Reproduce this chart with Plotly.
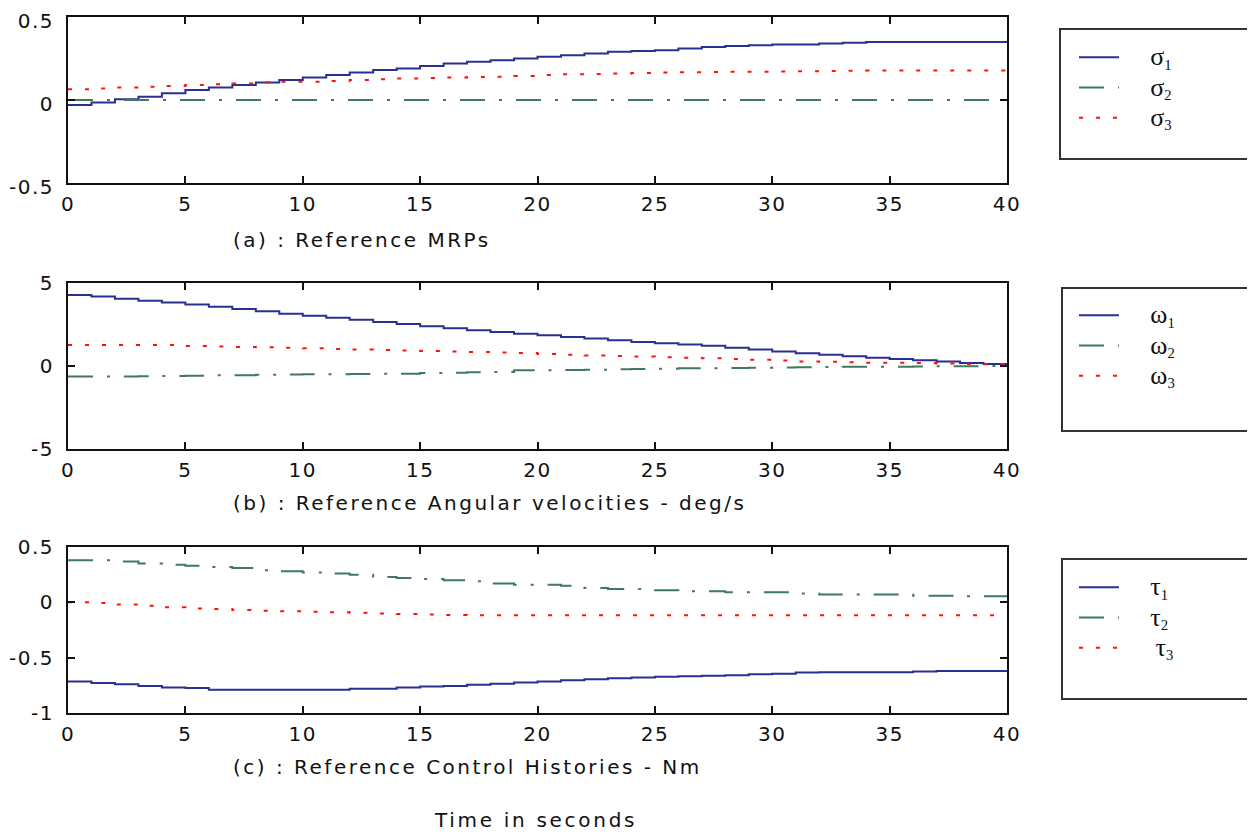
import plotly.graph_objects as go

# ---------------- data ----------------
t = list(range(0, 41))

sigma1 = [-0.03, -0.015, 0.005, 0.02, 0.04, 0.06, 0.075, 0.09, 0.105, 0.12,
          0.135, 0.15, 0.165, 0.18, 0.19, 0.205, 0.22, 0.23, 0.24, 0.25,
          0.26, 0.27, 0.28, 0.29, 0.295, 0.30, 0.31, 0.32, 0.325, 0.33,
          0.335, 0.335, 0.34, 0.345, 0.35, 0.35, 0.35, 0.35, 0.35, 0.35, 0.35]
sigma2 = [0.0] * 41
sigma3 = [0.065, 0.07, 0.075, 0.08, 0.085, 0.09, 0.095, 0.10, 0.105, 0.11,
          0.11, 0.115, 0.12, 0.125, 0.13, 0.132, 0.135, 0.138, 0.14, 0.145,
          0.15, 0.155, 0.157, 0.16, 0.162, 0.165, 0.167, 0.168, 0.17, 0.17,
          0.172, 0.173, 0.175, 0.176, 0.177, 0.177, 0.178, 0.178, 0.178, 0.178, 0.178]

omega1 = [4.28, 4.18, 4.05, 3.93, 3.82, 3.70, 3.57, 3.43, 3.30, 3.15,
          3.02, 2.90, 2.78, 2.65, 2.53, 2.40, 2.28, 2.15, 2.05, 1.95,
          1.85, 1.75, 1.65, 1.55, 1.45, 1.37, 1.30, 1.22, 1.10, 1.00,
          0.88, 0.77, 0.68, 0.58, 0.50, 0.42, 0.35, 0.27, 0.18, 0.12, 0.08]
omega2 = [-0.64, -0.64, -0.63, -0.62, -0.60, -0.58, -0.56, -0.55, -0.53, -0.51,
          -0.50, -0.49, -0.48, -0.47, -0.46, -0.42, -0.40, -0.38, -0.36, -0.26,
          -0.25, -0.24, -0.22, -0.20, -0.18, -0.16, -0.14, -0.13, -0.12, -0.10,
          -0.09, -0.08, -0.06, -0.05, -0.04, -0.04, -0.03, -0.02, -0.01, 0.0, 0.0]
omega3 = [1.27, 1.27, 1.27, 1.27, 1.27, 1.20, 1.17, 1.15, 1.13, 1.10,
          1.07, 1.03, 1.00, 0.97, 0.94, 0.90, 0.88, 0.85, 0.82, 0.78,
          0.73, 0.68, 0.63, 0.60, 0.57, 0.53, 0.50, 0.46, 0.42, 0.38,
          0.33, 0.27, 0.25, 0.22, 0.20, 0.20, 0.18, 0.15, 0.12, 0.10, 0.08]

tau1 = [-0.715, -0.73, -0.74, -0.755, -0.77, -0.775, -0.79, -0.79, -0.79, -0.79,
        -0.79, -0.79, -0.78, -0.78, -0.77, -0.76, -0.755, -0.745, -0.735, -0.725,
        -0.715, -0.705, -0.695, -0.685, -0.68, -0.672, -0.668, -0.664, -0.66, -0.65,
        -0.645, -0.635, -0.632, -0.632, -0.632, -0.632, -0.625, -0.62, -0.62, -0.62, -0.62]
tau2 = [0.38, 0.38, 0.37, 0.35, 0.34, 0.33, 0.32, 0.31, 0.29, 0.28,
        0.27, 0.26, 0.25, 0.23, 0.22, 0.21, 0.20, 0.19, 0.17, 0.16,
        0.16, 0.15, 0.13, 0.12, 0.12, 0.11, 0.10, 0.10, 0.09, 0.09,
        0.09, 0.08, 0.07, 0.07, 0.07, 0.07, 0.06, 0.06, 0.055, 0.055, 0.055]
tau3 = [0.0, -0.005, -0.02, -0.03, -0.045, -0.055, -0.06, -0.07, -0.075, -0.08,
        -0.085, -0.09, -0.095, -0.10, -0.105, -0.11, -0.115, -0.117, -0.117, -0.117,
        -0.117, -0.117, -0.117, -0.117, -0.117, -0.117, -0.117, -0.117, -0.117, -0.117,
        -0.117, -0.117, -0.117, -0.117, -0.117, -0.117, -0.117, -0.117, -0.117, -0.117, -0.117]

x_ticks = [0, 5, 10, 15, 20, 25, 30, 35, 40]
x_tick_labels = ["0", "5", "10", "15", "20", "25", "30", "35", "40"]
y_ticks_a = [-0.5, 0, 0.5]
y_tick_labels_a = ["-0.5", "0", "0.5"]
y_ticks_b = [-5, 0, 5]
y_tick_labels_b = ["-5", "0", "5"]
y_ticks_c = [-1, -0.5, 0, 0.5]
y_tick_labels_c = ["-1", "-0.5", "0", "0.5"]

legend_a = ["σ", "σ", "σ"]
legend_b = ["ω", "ω", "ω"]
legend_c = ["τ", "τ", "τ"]
legend_subs = ["1", "2", "3"]

captions = ["(a) : Reference MRPs",
            "(b) : Reference Angular velocities - deg/s",
            "(c) : Reference Control Histories - Nm"]
xlabel = "Time in seconds"

# ---------------- styling ----------------
W, H = 1255, 836
OFF = 8  # page body margin of the html page
BLUE = "#2b2f8f"
GREEN = "#3f7a5a"
RED = "#ff1010"
DASHDOT = "25px,14px,3px,14px"
DOTS = "4px,13px"
SANS = "DejaVu Sans, Liberation Sans, Arial"
TICKFONT = dict(family=SANS, size=20, color="#111")
LEGFONT = dict(family="Liberation Serif, Times New Roman, serif", size=21, color="#111")
NB = "\u00a0"


def spaced(s, sp):
    return '<span style="letter-spacing:%spx">%s</span>' % (sp, s)


def leg_name(g, s, pad):
    return NB * pad + '<span style="font-size:26px">%s</span><sub>%s</sub>' % (g, s)


def px_x(p):
    return (p - OFF) / W


def px_y(p):
    return 1 - (p - OFF) / H


fig = go.Figure()

panels = [
    ([leg_name(g, s, 5) for g, s in zip(legend_a, legend_subs)], [sigma1, sigma2, sigma3], "legend"),
    ([leg_name(g, s, 5) for g, s in zip(legend_b, legend_subs)], [omega1, omega2, omega3], "legend2"),
    ([leg_name(g, s, p) for g, s, p in zip(legend_c, legend_subs, [5, 5, 6])], [tau1, tau2, tau3], "legend3"),
]
styles = [(BLUE, "solid"), (GREEN, DASHDOT), (RED, DOTS)]

for i, (names, series, leg) in enumerate(panels):
    ax = "" if i == 0 else str(i + 1)
    for name, ys, (col, dash) in zip(names, series, styles):
        fig.add_trace(go.Scatter(
            x=t, y=ys, mode="lines", name=name, line_shape="hv",
            line=dict(color=col, width=2, dash=dash),
            xaxis="x" + ax, yaxis="y" + ax, legend=leg,
        ))

xdom = [px_x(68), px_x(1007)]
ydoms = [[px_y(183), px_y(17)], [px_y(449), px_y(283)], [px_y(713), px_y(547)]]
yranges = [[-0.5, 0.5], [-5, 5], [-1, 0.5]]
yticks = [(y_ticks_a, y_tick_labels_a), (y_ticks_b, y_tick_labels_b), (y_ticks_c, y_tick_labels_c)]
ylabel_shift = [4, 0, 0]

axis_common = dict(showline=True, linewidth=2, linecolor="#111", mirror="ticks",
                   ticks="inside", ticklen=7, tickwidth=1.5, tickcolor="#111",
                   showgrid=False, zeroline=False, tickfont=TICKFONT, automargin=False,
                   ticklabeloverflow="allow")

layout = dict(width=W, height=H, margin=dict(l=0, r=0, t=0, b=0),
              paper_bgcolor="white", plot_bgcolor="white", showlegend=True)
for i in range(3):
    ax = "" if i == 0 else str(i + 1)
    layout["xaxis" + ax] = dict(domain=xdom, range=[0, 40], tickvals=x_ticks,
                                ticktext=[spaced(s, 1.5) for s in x_tick_labels],
                                ticklabelstandoff=2,
                                anchor="y" + ax, **axis_common)
    vals, labs = yticks[i]
    layout["yaxis" + ax] = dict(domain=ydoms[i], range=yranges[i], tickvals=vals,
                                ticktext=[spaced(s, 1.5) for s in labs],
                                ticklabelstandoff=8, ticklabelshift=ylabel_shift[i],
                                anchor="x" + ax, **axis_common)

leg_tops = [37, 295, 567]
for i, top in enumerate(leg_tops):
    key = "legend" if i == 0 else "legend" + str(i + 1)
    layout[key] = dict(x=px_x(1074), y=px_y(top), xanchor="left", yanchor="top",
                       bgcolor="rgba(0,0,0,0)", borderwidth=0, font=LEGFONT,
                       itemwidth=40, tracegroupgap=0)

fig.update_layout(**layout)

boxes = [(1060, 29, 1254, 159), (1062, 288, 1251, 431), (1062, 559, 1251, 699)]
for (x0, y0, x1, y1) in boxes:
    fig.add_shape(type="rect", xref="paper", yref="paper",
                  x0=px_x(x0), x1=px_x(x1), y0=px_y(y1), y1=px_y(y0),
                  line=dict(color="#333", width=2), fillcolor="rgba(0,0,0,0)")

cap_y = [240, 503, 767]
for text, cy in zip(captions, cap_y):
    fig.add_annotation(text=spaced(text, 2.5), xref="paper", yref="paper",
                       x=px_x(231), y=px_y(cy),
                       xanchor="left", yanchor="middle", showarrow=False,
                       font=dict(family=SANS, size=20, color="#111"))
fig.add_annotation(text=spaced(xlabel, 2.7), xref="paper", yref="paper",
                   x=px_x(535), y=px_y(820),
                   xanchor="center", yanchor="middle", showarrow=False,
                   font=dict(family=SANS, size=20, color="#111"))

fig.write_html("out.html")
